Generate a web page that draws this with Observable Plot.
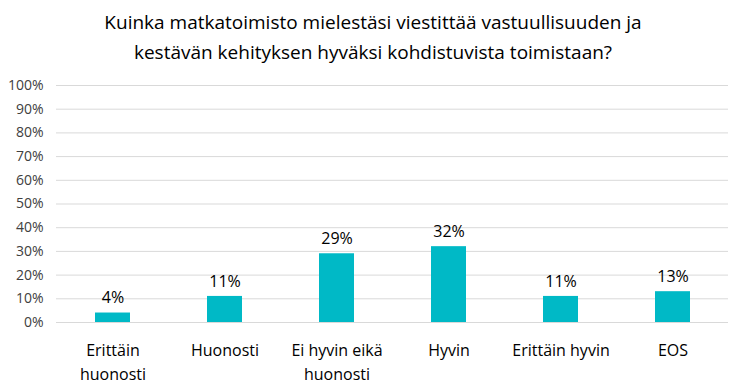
<!DOCTYPE html>
<html>
<head>
<meta charset="utf-8">
<script src="https://cdn.jsdelivr.net/npm/d3@7"></script>
<script src="https://cdn.jsdelivr.net/npm/@observablehq/plot@0.6"></script>
<style>
  html, body { margin: 0; padding: 0; background: #fff; }
  #title { width: 746px; height: 70px; box-sizing: border-box; padding-top: 7px;
    text-align: center; font-family: "Open Sans", sans-serif; font-size: 19px; line-height: 30px; color: #000; }
  #chart svg { display: block; }
</style>
</head>
<body>
<div id="title">Kuinka matkatoimisto mielestäsi viestittää vastuullisuuden ja<br>kestävän kehityksen hyväksi kohdistuvista toimistaan?</div>
<div id="chart"></div>
<script>
const categories = ["Erittäin huonosti", "Huonosti", "Ei hyvin eikä huonosti", "Hyvin", "Erittäin hyvin", "EOS"];
const tickLabels = ["Erittäin\nhuonosti", "Huonosti", "Ei hyvin eikä\nhuonosti", "Hyvin", "Erittäin hyvin", "EOS"];
const values = [0.04, 0.11, 0.29, 0.32, 0.11, 0.13];
const yTicks = [0, 0.1, 0.2, 0.3, 0.4, 0.5, 0.6, 0.7, 0.8, 0.9, 1.0];

const data = categories.map((c, i) => ({category: c, value: values[i]}));
const labelOf = new Map(categories.map((c, i) => [c, tickLabels[i]]));

const chart = Plot.plot({
  width: 746,
  height: 322,
  marginTop: 15,
  marginBottom: 70,
  marginLeft: 56,
  marginRight: 18,
  style: {fontFamily: "Open Sans, sans-serif", fontSize: "13px", background: "#fff"},
  x: {domain: categories, paddingInner: 0.69, paddingOuter: 0.345, label: null},
  y: {domain: [0, 1], ticks: yTicks, label: null},
  marks: [
    Plot.gridY(yTicks, {stroke: "#d9d9d9", strokeOpacity: 1, strokeWidth: 1}),
    Plot.barY(data, {x: "category", y: "value", fill: "#00B9C6"}),
    Plot.text(data, {x: "category", y: "value", text: d => Math.round(d.value * 100) + "%",
      dy: -15, fontSize: 16, fill: "#000"}),
    Plot.axisY(yTicks, {tickFormat: d => Math.round(d * 100) + "%", tickSize: 0, tickPadding: 13,
      fontSize: 14, fill: "#404040"}),
    Plot.axisX({tickFormat: d => labelOf.get(d), tickSize: 0, tickPadding: 16, fontSize: 16,
      fill: "#000", lineHeight: 1.5})
  ]
});
document.getElementById("chart").appendChild(chart);
</script>
</body>
</html>
